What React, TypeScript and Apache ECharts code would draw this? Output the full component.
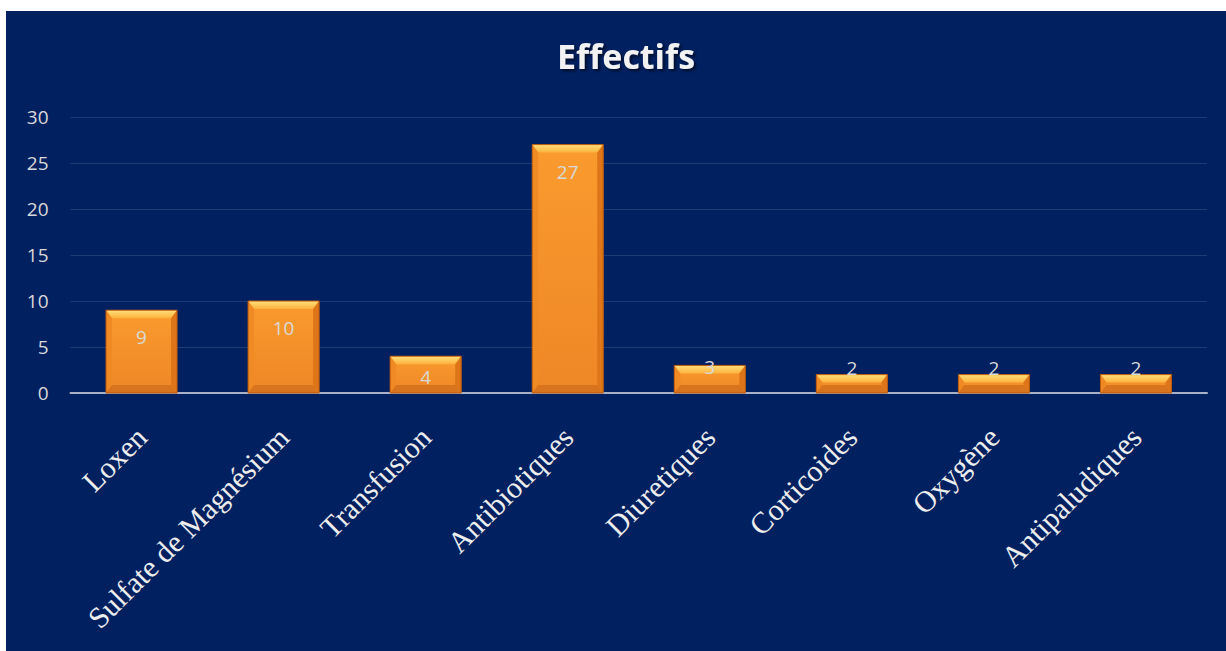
import React, { useEffect, useRef } from "react";
import * as echarts from "echarts";

const categories = [
  "Loxen",
  "Sulfate de Magnésium",
  "Transfusion",
  "Antibiotiques",
  "Diuretiques",
  "Corticoides",
  "Oxygène",
  "Antipaludiques",
];
const effectifs = [9, 10, 4, 27, 3, 2, 2, 2];
const yTicks = { min: 0, max: 30, interval: 5 };
const chartTitle = "Effectifs";

function labelOffset(h: number): number {
  if (h >= 60) return 27;
  if (h >= 35) return 21;
  if (h >= 25) return 2;
  return -7;
}

export default function App() {
  const ref = useRef<HTMLDivElement>(null);
  useEffect(() => {
    if (!ref.current) return;
    const chart = echarts.init(ref.current, undefined, { renderer: "svg" });
    const renderItem = (params: any, api: any) => {
      const idx = api.value(0);
      const val = api.value(1);
      const top = api.coord([idx, val]);
      const base = api.coord([idx, 0]);
      const w = api.size([1, 0])[0] * 0.5;
      const x0 = top[0] - w / 2;
      const x1 = top[0] + w / 2;
      const y0 = top[1];
      const y1 = base[1];
      const h = y1 - y0;
      const b = Math.min(8, h / 2);
      const bs = Math.min(6, h / 2);
      return {
        type: "group",
        children: [
          {
            type: "rect",
            shape: { x: x0, y: y0, width: w, height: h },
            style: {
              fill: new echarts.graphic.LinearGradient(0, 0, 0, 1, [
                { offset: 0, color: "#FA9B2E" },
                { offset: 1, color: "#EE8726" },
              ]),
            },
          },
          {
            type: "polygon",
            shape: { points: [[x0, y0], [x1, y0], [x1 - bs, y0 + b], [x0 + bs, y0 + b]] },
            style: {
              fill: new echarts.graphic.LinearGradient(0, 0, 0, 1, [
                { offset: 0, color: "#FFE07A" },
                { offset: 1, color: "#FDB23E" },
              ]),
            },
          },
          {
            type: "polygon",
            shape: { points: [[x0, y0], [x0 + bs, y0 + b], [x0 + bs, y1 - b], [x0, y1]] },
            style: { fill: "#F08A24" },
          },
          {
            type: "polygon",
            shape: { points: [[x1, y0], [x1 - bs, y0 + b], [x1 - bs, y1 - b], [x1, y1]] },
            style: { fill: "#DE7619" },
          },
          {
            type: "polygon",
            shape: { points: [[x0, y1], [x0 + bs, y1 - b], [x1 - bs, y1 - b], [x1, y1]] },
            style: { fill: "#D9741E" },
          },
          {
            type: "rect",
            shape: { x: x0, y: y0, width: w, height: h },
            style: { fill: "none", stroke: "#B9590F", lineWidth: 1 },
          },
          {
            type: "text",
            style: {
              text: String(val),
              x: top[0],
              y: y0 + labelOffset(h),
              fill: "#D9D9D9",
              fontSize: 19,
              fontFamily: "Open Sans",
              align: "center",
              verticalAlign: "middle",
            },
            z2: 10,
          },
        ],
      };
    };
    chart.setOption({
      animation: false,
      backgroundColor: "#002060",
      title: {
        text: chartTitle,
        left: 615,
        textAlign: "center",
        top: 23,
        textStyle: {
          color: "#F2F2F2",
          fontFamily: "Open Sans",
          fontWeight: "bold",
          fontSize: 34,
          textShadowColor: "rgba(0,0,0,0.6)",
          textShadowBlur: 3,
          textShadowOffsetX: 2,
          textShadowOffsetY: 2,
        },
      },
      grid: { left: 64.5, right: 19, top: 106, bottom: 258 },
      xAxis: {
        type: "category",
        data: categories,
        boundaryGap: true,
        axisTick: { show: false },
        axisLine: { lineStyle: { color: "#A9B1C6", width: 2 } },
        axisLabel: {
          interval: 0,
          rotate: 45,
          margin: 39,
          color: "#EDEDED",
          fontFamily: "Liberation Serif",
          fontSize: 30,
        },
      },
      yAxis: {
        type: "value",
        min: yTicks.min,
        max: yTicks.max,
        interval: yTicks.interval,
        axisLine: { show: false },
        axisTick: { show: false },
        axisLabel: {
          color: "#D9D9D9",
          fontFamily: "Open Sans",
          fontSize: 19,
          margin: 22,
        },
        splitLine: { lineStyle: { color: "rgba(255,255,255,0.12)", width: 1 } },
      },
      series: [
        {
          type: "custom",
          renderItem,
          encode: { x: 0, y: 1 },
          data: effectifs.map((v, i) => [i, v]),
        },
      ],
    });
    return () => chart.dispose();
  }, []);
  return (
    <div
      ref={ref}
      style={{ position: "absolute", left: 6, top: 11, width: 1220, height: 640 }}
    />
  );
}
